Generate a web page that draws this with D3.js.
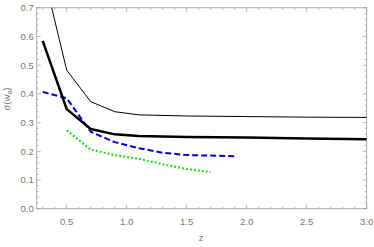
<!DOCTYPE html>
<html><head><meta charset="utf-8">
<script src="https://cdn.jsdelivr.net/npm/d3@7"></script>
<style>body{margin:0;background:#fff}svg{display:block}</style>
</head><body>
<svg id="c" width="374" height="247"></svg>
<script>
const zThin = [0.3,0.5,0.7,0.9,1.1,1.5,2.0,2.5,3.0];
const thinVals = [0.83,0.483,0.373,0.338,0.327,0.323,0.321,0.319,0.318];
const zThick = [0.3,0.5,0.7,0.9,1.1,1.5,2.0,2.5,3.0];
const thickVals = [0.585,0.347,0.278,0.259,0.253,0.250,0.248,0.245,0.242];
const zBlue = [0.3,0.5,0.7,0.9,1.1,1.3,1.5,1.7,1.9];
const blueVals = [0.407,0.385,0.268,0.232,0.211,0.195,0.187,0.185,0.183];
const zGreen = [0.5,0.7,0.9,1.1,1.3,1.5,1.7];
const greenVals = [0.273,0.206,0.187,0.174,0.155,0.138,0.127];
const xTicks = [0.5,1.0,1.5,2.0,2.5,3.0];
const yTicks = [0.0,0.1,0.2,0.3,0.4,0.5,0.6,0.7];

const svg = d3.select("#c");
const L=36.7, R=366.7, T=7.8, B=208.7;
const x = d3.scaleLinear().domain([0.25,3.0]).range([L,R]);
const y = d3.scaleLinear().domain([0,0.7]).range([B,T]);
const frameCol="#999", labCol="#777";

svg.append("defs").append("clipPath").attr("id","clip")
  .append("rect").attr("x",L).attr("y",T).attr("width",R-L).attr("height",B-T);

svg.append("rect").attr("x",L).attr("y",T).attr("width",R-L).attr("height",B-T)
  .attr("fill","none").attr("stroke",frameCol).attr("stroke-width",0.8);

const xMinor = d3.range(0.3,3.0001,0.1);
const yMinor = d3.range(0,0.7001,0.02);
const g = svg.append("g").attr("stroke",frameCol).attr("stroke-width",0.7);
xMinor.forEach(v=>{
  const major = xTicks.some(t=>Math.abs(t-v)<1e-6);
  const len = major?4:2;
  g.append("line").attr("x1",x(v)).attr("x2",x(v)).attr("y1",B).attr("y2",B-len);
  g.append("line").attr("x1",x(v)).attr("x2",x(v)).attr("y1",T).attr("y2",T+len);
});
yMinor.forEach(v=>{
  const major = yTicks.some(t=>Math.abs(t-v)<1e-6);
  const len = major?4:2;
  g.append("line").attr("y1",y(v)).attr("y2",y(v)).attr("x1",L).attr("x2",L+len);
  g.append("line").attr("y1",y(v)).attr("y2",y(v)).attr("x1",R).attr("x2",R-len);
});

const font = "'Liberation Sans', Arial, sans-serif";
const fs = 9.5;
svg.append("g").selectAll("text").data(xTicks).join("text")
  .attr("x",d=>x(d)).attr("y",B+16.3).attr("text-anchor","middle")
  .attr("font-family",font).attr("font-size",fs).attr("fill",labCol).text(d=>d.toFixed(1));
svg.append("g").selectAll("text").data(yTicks).join("text")
  .attr("x",L-3).attr("y",d=>y(d)+3.3).attr("text-anchor","end")
  .attr("font-family",font).attr("font-size",fs).attr("fill",labCol).text(d=>d.toFixed(1));

svg.append("text").attr("x",201).attr("y",241).attr("text-anchor","middle")
  .attr("font-family",font).attr("font-size",fs).attr("fill",labCol).text("z");
const yl = svg.append("text").attr("transform","translate(10,99) rotate(-90)")
  .attr("text-anchor","middle").attr("font-family",font).attr("font-size",fs).attr("fill",labCol);
yl.append("tspan").text("σ(w");
yl.append("tspan").attr("font-size",7).attr("dy",2).text("a");
yl.append("tspan").attr("dy",-2).text(")");

const line = d3.line().x(d=>x(d[0])).y(d=>y(d[1]));
const plot = svg.append("g").attr("clip-path","url(#clip)");
function draw(zs, vs, col, w, dash){
  plot.append("path").datum(zs.map((z,i)=>[z,vs[i]])).attr("d",line)
    .attr("fill","none").attr("stroke",col).attr("stroke-width",w)
    .attr("stroke-dasharray",dash||null).attr("stroke-linejoin","round");
}
draw(zGreen, greenVals, "#00ee00", 2, "2,2");
draw(zBlue, blueVals, "#0000ee", 2, "6,3");
draw(zThin, thinVals, "#000", 1);
draw(zThick, thickVals, "#000", 2.5);
</script>
</body></html>
